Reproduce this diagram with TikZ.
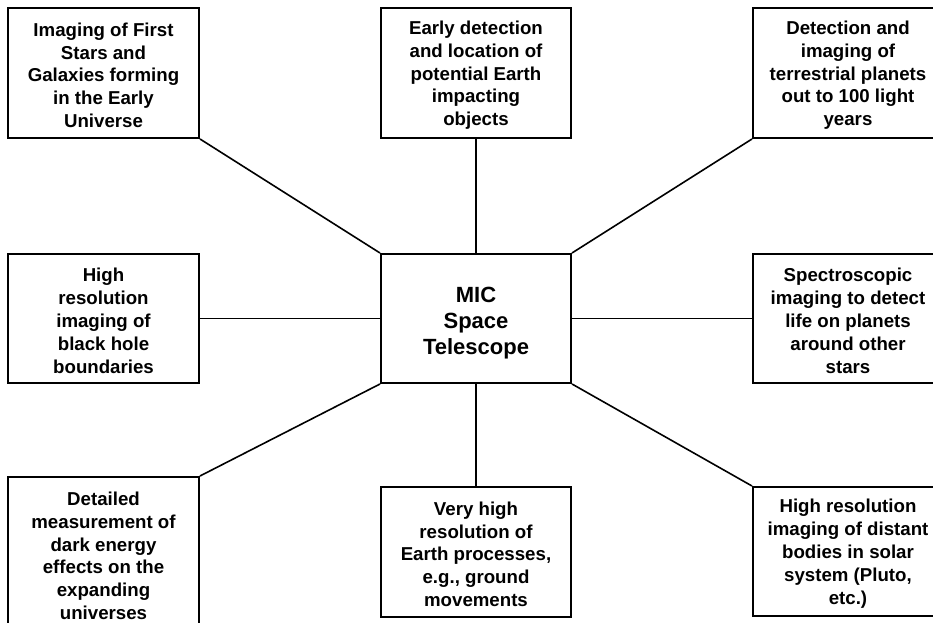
\documentclass[tikz,border=0pt]{standalone}
\usepackage{fontspec}
\setmainfont{Liberation Sans}
\begin{document}
\begin{tikzpicture}[x=0.75pt,y=-0.75pt,
  goalbox/.style={draw=black,line width=1.5pt,rectangle,inner sep=0pt,
    minimum width=142.5pt,minimum height=97.5pt,align=center,
    font=\fontsize{14}{17.1}\selectfont\bfseries},
  hubbox/.style={goalbox,font=\fontsize{16.5}{19.5}\selectfont\bfseries},
  link/.style={line width=1.2pt,black}]
\useasboundingbox (0,0) rectangle (933,623);
\clip (0,0) rectangle (933,623);

% central telescope box (a tall first line lowers the text block a little)
\node[hubbox,minimum height=96.75pt] (hub) at (476,318.5) {\rule{0pt}{18pt}MIC\\Space\\Telescope};

% science goals around it
\node[goalbox,minimum width=143.25pt] (tl) at (103.5,73) {\rule{0pt}{13.5pt}Imaging of First\\Stars and\\Galaxies forming\\in the Early\\Universe};
\node[goalbox] (tc) at (476,73) {\rule{0pt}{13.5pt}Early detection\\and location of\\potential Earth\\impacting\\objects};
\node[goalbox] (tr) at (848,73) {\rule{0pt}{13.5pt}Detection and\\imaging of\\terrestrial planets\\out to 100 light\\years};
\node[goalbox,minimum width=143.25pt,minimum height=96.75pt] (ml) at (103.5,318.5) {\rule{0pt}{13.5pt}High\\resolution\\imaging of\\black hole\\boundaries};
\node[goalbox,minimum height=96.75pt] (mr) at (848,318.5) {\rule{0pt}{13.5pt}Spectroscopic\\imaging to detect\\life on planets\\around other\\stars};
\node[goalbox,minimum width=143.25pt,minimum height=114.75pt] (bl) at (103.5,553.5) {\rule{0pt}{13.5pt}Detailed\\measurement of\\dark energy\\effects on the\\expanding\\universes};
\node[goalbox] (bc) at (476,552) {\rule{0pt}{13.5pt}Very high\\resolution of\\Earth processes,\\e.g., ground\\movements};
\node[goalbox,minimum height=96.75pt] (br) at (848,551.5) {\rule{0pt}{13.5pt}High resolution\\imaging of distant\\bodies in solar\\system (Pluto,\\etc.)};

% spokes
\draw[link] (tl.south east) -- (hub.north west);
\draw[link] (tc.south) -- (hub.north);
\draw[link] (tr.south west) -- (hub.north east);
\draw[link] (ml.east) -- (hub.west);
\draw[link] (mr.west) -- (hub.east);
\draw[link] (bl.north east) -- (hub.south west);
\draw[link] (bc.north) -- (hub.south);
\draw[link] (br.north west) -- (hub.south east);
\end{tikzpicture}
\end{document}
